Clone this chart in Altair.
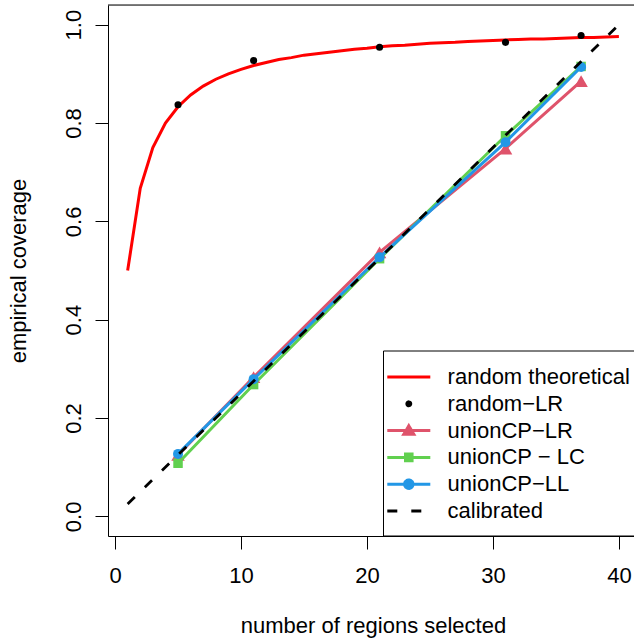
import altair as alt
import pandas as pd

# ---------------- data ----------------
k_theory = list(range(1, 41))
random_theoretical = [0.500, 0.667, 0.750, 0.800, 0.833, 0.857, 0.875, 0.889, 0.900, 0.909,
                      0.917, 0.923, 0.929, 0.933, 0.938, 0.941, 0.944, 0.947, 0.950, 0.952,
                      0.955, 0.957, 0.958, 0.960, 0.962, 0.963, 0.964, 0.966, 0.967, 0.968,
                      0.969, 0.970, 0.971, 0.971, 0.972, 0.973, 0.974, 0.974, 0.975, 0.976]
k_sel = [5, 11, 21, 31, 37]
random_LR = [0.837, 0.927, 0.954, 0.964, 0.978]
unionCP_LR = [0.125, 0.283, 0.537, 0.748, 0.885]
unionCP_LC = [0.108, 0.268, 0.524, 0.774, 0.915]
unionCP_LL = [0.127, 0.279, 0.527, 0.761, 0.914]
calib_x = [1, 40]
calib_y = [0.025, 1.0]
x_ticks = [0, 10, 20, 30, 40]
y_ticks = [0.0, 0.2, 0.4, 0.6, 0.8, 1.0]
legend_labels = ["random theoretical", "random\u2212LR", "unionCP\u2212LR",
                 "unionCP \u2212 LC", "unionCP\u2212LL", "calibrated"]

# ---------------- styles ----------------
RED = "#FF0000"
PINK = "#DF536B"
GREEN = "#61D04F"
BLUE = "#2297E6"
FONT = "Liberation Sans"
FS = 22
W, H = 526, 531

xs = alt.Scale(domain=[-0.56, 41.2], nice=False, zero=False)
ys = alt.Scale(domain=[-0.04, 1.04], nice=False, zero=False)

x_axis = alt.Axis(values=x_ticks, format="d", title="number of regions selected",
                  grid=False, domainColor="black", domainWidth=1, tickColor="black",
                  tickSize=13, tickWidth=1, labelFontSize=FS, labelPadding=16,
                  labelColor="black", labelFlush=False, labelOverlap=False,
                  titleFontSize=FS, titleFontWeight="normal", titleColor="black",
                  titleX=265, titleY=96, titleAlign="center", titleBaseline="alphabetic")
y_axis = alt.Axis(values=y_ticks, format=".1f", title="empirical coverage",
                  grid=False, domainColor="black", domainWidth=1, tickColor="black",
                  tickSize=13, tickWidth=1, labelFontSize=FS, labelPadding=10,
                  labelAngle=270, labelAlign="center", labelBaseline="bottom",
                  labelColor="black", labelFlush=False, labelOverlap=False,
                  titleFontSize=FS, titleFontWeight="normal", titleColor="black",
                  titleAngle=270, titleX=-83, titleY=H / 2, titleAlign="center",
                  titleBaseline="alphabetic")


def X():
    return alt.X("x:Q", scale=xs, axis=x_axis)


def Y():
    return alt.Y("y:Q", scale=ys, axis=y_axis)


theory_df = pd.DataFrame({"x": k_theory, "y": random_theoretical})
rlr_df = pd.DataFrame({"x": k_sel, "y": random_LR})
lr_df = pd.DataFrame({"x": k_sel, "y": unionCP_LR})
lc_df = pd.DataFrame({"x": k_sel, "y": unionCP_LC})
ll_df = pd.DataFrame({"x": k_sel, "y": unionCP_LL})
cal_df = pd.DataFrame({"x": calib_x, "y": calib_y})

frame_top = alt.Chart(pd.DataFrame({"a": [0]})).mark_rule(color="black", strokeWidth=1).encode(
    x=alt.value(0), x2=alt.value(W), y=alt.value(0))

theory = alt.Chart(theory_df).mark_line(color=RED, strokeWidth=3).encode(x=X(), y=Y())
rlr = alt.Chart(rlr_df).mark_point(filled=True, shape="circle", size=50, color="black",
                                   opacity=1).encode(x=X(), y=Y())


def series(df, color, shape, size):
    line = alt.Chart(df).mark_line(color=color, strokeWidth=3).encode(x=X(), y=Y())
    pts = alt.Chart(df).mark_point(filled=True, shape=shape, size=size, color=color,
                                   opacity=1).encode(x=X(), y=Y())
    return [line, pts]


lr = series(lr_df, PINK, "triangle-up", 182)
lc = series(lc_df, GREEN, "square", 90)
ll = series(ll_df, BLUE, "circle", 100)

cal = alt.Chart(cal_df).mark_line(color="black", strokeWidth=2.8, strokeDash=[10, 14]).encode(
    x=X(), y=Y())

# ---------------- legend (built by Vega-Lite from the label list) ----------------
# symbol unit = 11.7 px (symbol size 548); marker centre at +0.709 units
LINE = "M-1.128,0H2.547"
DOT = "M0.874,0A0.165,0.165 0 1,1 0.544,0A0.165,0.165 0 1,1 0.874,0Z"
TRI = "M0.709,-0.41L1.139,0.32L0.279,0.32Z"
SQR = "M0.429,-0.28H0.989V0.28H0.429Z"
CIR = "M1.069,0A0.36,0.36 0 1,1 0.349,0A0.36,0.36 0 1,1 1.069,0Z"
shapes = [LINE, DOT, LINE + TRI, LINE + SQR, LINE + CIR, LINE]
fills = ["transparent", "black", PINK, GREEN, BLUE, "transparent"]
strokes = [RED, "black", PINK, GREEN, BLUE, "black"]
dashes = [[1, 0], [1, 0], [1, 0], [1, 0], [1, 0], [10, 14]]

leg = alt.Legend(title=None, orient="none", legendX=275, legendY=345.5,
                 strokeColor="black", fillColor="white", padding=13,
                 labelFont=FONT, labelFontSize=FS, labelColor="black", labelLimit=400,
                 labelOffset=33.6, symbolSize=548, symbolStrokeWidth=3,
                 symbolOffset=-9, rowPadding=1.8, symbolOpacity=1)

legend_df = pd.DataFrame({"series": legend_labels})
legend_layer = alt.Chart(legend_df).transform_filter("false").mark_point(
    size=548, strokeWidth=3).encode(
    shape=alt.Shape("series:N", scale=alt.Scale(domain=legend_labels, range=shapes), legend=leg),
    fill=alt.Fill("series:N", scale=alt.Scale(domain=legend_labels, range=fills), legend=leg),
    stroke=alt.Stroke("series:N", scale=alt.Scale(domain=legend_labels, range=strokes), legend=leg),
    strokeDash=alt.StrokeDash("series:N", scale=alt.Scale(domain=legend_labels, range=dashes),
                              legend=leg),
)

chart = alt.layer(frame_top, theory, rlr, *lr, *lc, *ll, cal, legend_layer).properties(
    width=W, height=H, autosize="none",
    padding={"left": 108, "top": 5, "right": 0, "bottom": 105},
).configure_view(stroke=None).configure(
    font=FONT
).configure_axis(labelFont=FONT, titleFont=FONT)

chart.save("out.html", embed_options={"renderer": "svg", "actions": False})
